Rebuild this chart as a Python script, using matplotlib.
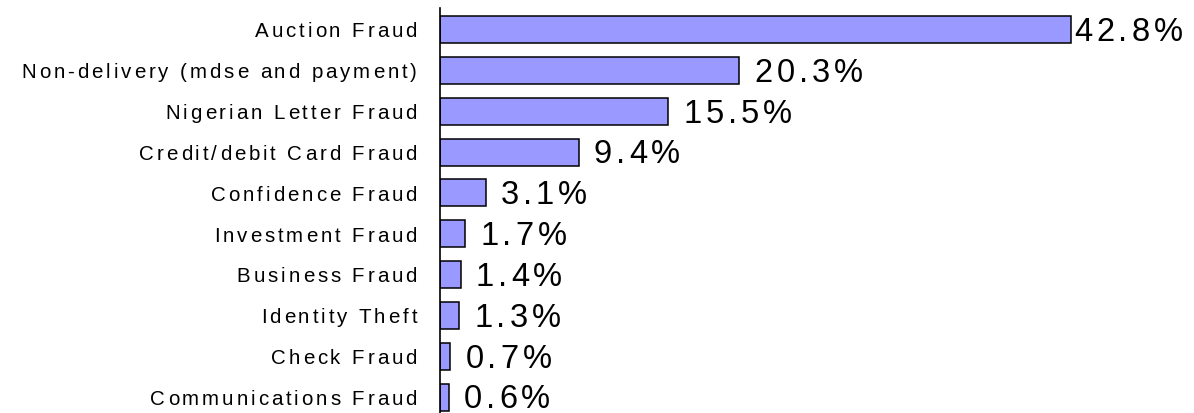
import matplotlib
matplotlib.use("Agg")
import matplotlib.pyplot as plt
from matplotlib.font_manager import FontProperties, findfont, get_font

categories = ["Auction Fraud", "Non-delivery (mdse and payment)", "Nigerian Letter Fraud",
              "Credit/debit Card Fraud", "Confidence Fraud", "Investment Fraud",
              "Business Fraud", "Identity Theft", "Check Fraud", "Communications Fraud"]
values = [42.8, 20.3, 15.5, 9.4, 3.1, 1.7, 1.4, 1.3, 0.7, 0.6]
value_labels = ["42.8%", "20.3%", "15.5%", "9.4%", "3.1%", "1.7%", "1.4%", "1.3%", "0.7%", "0.6%"]

DPI = 100
FAMILY = "Liberation Sans"
LABEL_PT = 14.8
VALUE_PT = 23.5


def char_advances(s, size_pt):
    font = get_font(findfont(FontProperties(family=FAMILY)))
    font.set_size(size_pt, DPI)
    return [font.load_char(ord(c)).linearHoriAdvance / 65536 for c in s]


def spaced_text(ax, s, x, y, size_pt, spacing, pad, drop, align="left"):
    # draws text char by char with extra letter spacing (pixels)
    adv = char_advances(s, size_pt)
    total = sum(adv) + spacing * (len(s) - 1)
    dx = pad if align == "left" else -pad - total
    for c, a in zip(s, adv):
        ax.annotate(c, xy=(x, y), xycoords="data", xytext=(dx, -drop),
                    textcoords="offset pixels", ha="left", va="baseline",
                    fontsize=size_pt, family=FAMILY, color="black",
                    annotation_clip=False)
        dx += a + spacing


fig = plt.figure(figsize=(11.94, 4.14), dpi=DPI)
ax = fig.add_axes([440 / 1194, 0, 737 / 1194, 1 - 9 / 414])

y = list(range(len(categories)))
ax.barh(y, values, height=0.66, color="#9999FF", edgecolor="black", linewidth=1.1)
ax.set_xlim(0, 50)
ax.set_ylim(9.39, -0.527)

for s in ["top", "right", "bottom"]:
    ax.spines[s].set_visible(False)
ax.spines["left"].set_linewidth(1.2)
ax.set_xticks([])
ax.set_yticks([])

for i, (cat, v, lab) in enumerate(zip(categories, values, value_labels)):
    spaced_text(ax, cat, 0, i, LABEL_PT, 2.9, 23, 6.8, align="right")
    spaced_text(ax, lab, min(v, 42.0), i, VALUE_PT, 4.0, 15, 10.3, align="left")

plt.savefig("out.png", dpi=DPI)
